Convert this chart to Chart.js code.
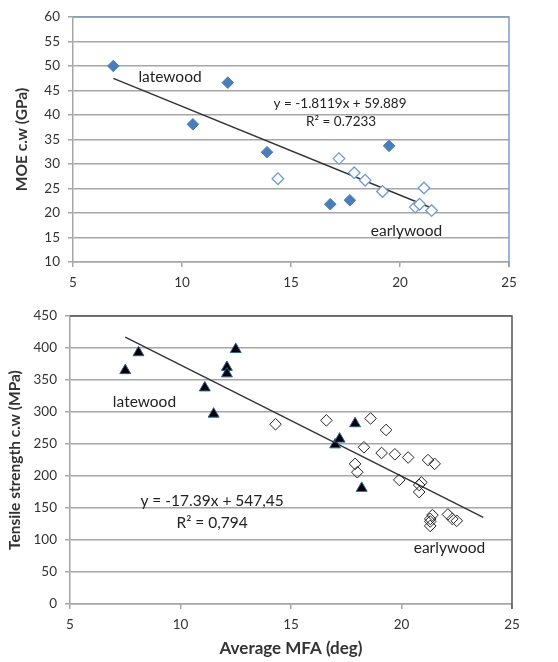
<!DOCTYPE html>
<html lang="en">
<head>
<meta charset="UTF-8">
<title>MOE and tensile strength vs MFA</title>
<script src="https://cdn.jsdelivr.net/npm/chart.js@4"></script>
<style>
    body{ margin:0; background:#fff; }
    #moeBox{ position:absolute; left:0; top:0; width:558px; height:300px; }
    #tsBox{ position:absolute; left:0; top:300px; width:558px; height:362px; }
</style>
</head>
<body>
<div id="moeBox"><canvas id="moeCanvas" width="558" height="300"></canvas></div>
<div id="tsBox"><canvas id="tsCanvas" width="558" height="362"></canvas></div>
<script>
// ---- top chart: MOE vs MFA ----
const moeLateX = [6.85, 10.5, 12.1, 13.9, 16.8, 17.7, 19.5];
const moeLateY = [50.0, 38.1, 46.6, 32.4, 21.8, 22.6, 33.7];
const moeEarlyX = [14.4, 17.2, 17.9, 18.4, 19.2, 20.7, 20.9, 21.1, 21.45];
const moeEarlyY = [27.0, 31.1, 28.2, 26.7, 24.4, 21.2, 21.8, 25.1, 20.5];
const moeSlope = -1.8119, moeIntercept = 59.889;
const moeFitRange = [6.85, 21.45];

// ---- bottom chart: tensile strength vs MFA ----
const tsLateX = [7.5, 8.1, 11.1, 11.5, 12.1, 12.1, 12.5, 17.0, 17.2, 17.9, 18.2];
const tsLateY = [365, 393, 338, 297, 370, 360, 398, 249, 258, 282, 181];
const tsEarlyX = [14.3, 16.6, 18.6, 19.3, 18.3, 19.1, 19.7, 20.3, 17.9, 18.0, 19.9,
                  21.2, 21.5, 20.9, 20.8, 20.8, 21.4, 21.3, 21.3, 21.3, 22.1, 22.3, 22.5];
const tsEarlyY = [281, 287, 290, 272, 245, 236, 234, 229, 219, 206, 194,
                  225, 219, 190, 186, 175, 139, 133, 129, 122, 140, 133, 130];
const tsSlope = -17.39, tsIntercept = 547.45;
const tsFitRange = [7.5, 23.7];

const xTicks = [5, 10, 15, 20, 25];
const moeTicks = [10, 15, 20, 25, 30, 35, 40, 45, 50, 55, 60];
const tsTicks = [0, 50, 100, 150, 200, 250, 300, 350, 400, 450];

const FONT = "Lato, 'Open Sans', sans-serif";
const TXT = '#333';

function pts(xs, ys){ return xs.map((x, i) => ({x: x, y: ys[i]})); }
function fitLine(m, b, r){ return r.map(x => ({x: x, y: m * x + b})); }

// text notes placed in data units through the scales
const notesPlugin = {
    id: 'notes',
    afterDatasetsDraw(chart, args, opts){
        const ctx = chart.ctx, xs = chart.scales.x, ys = chart.scales.y;
        ctx.save();
        ctx.fillStyle = '#222';
        ctx.textAlign = 'center';
        ctx.textBaseline = 'middle';
        (opts.items || []).forEach(n => {
            ctx.font = n.size + 'px ' + FONT;
            ctx.fillText(n.text, xs.getPixelForValue(n.x), ys.getPixelForValue(n.y));
        });
        ctx.restore();
    }
};

// top + right frame of plot area
const framePlugin = {
    id: 'frame',
    afterDraw(chart, args, opts){
        const a = chart.chartArea, ctx = chart.ctx;
        ctx.save();
        ctx.strokeStyle = opts.color;
        ctx.lineWidth = 1.5;
        ctx.beginPath();
        ctx.moveTo(a.left, a.top);
        ctx.lineTo(a.right, a.top);
        ctx.lineTo(a.right, a.bottom + 5);
        ctx.stroke();
        ctx.restore();
    }
};

function makeChart(id, cfg){
    return new Chart(document.getElementById(id), {
        type: 'scatter',
        data: { datasets: cfg.datasets },
        plugins: [notesPlugin, framePlugin],
        options: {
            responsive: false,
            animation: false,
            layout: { padding: { top: cfg.padTop, right: cfg.padRight, left: 0, bottom: 0 } },
            plugins: {
                legend: { display: false },
                tooltip: { enabled: false },
                notes: { items: cfg.notes },
                frame: { color: cfg.frameColor }
            },
            scales: {
                x: {
                    type: 'linear', min: 5, max: 25,
                    afterBuildTicks: s => { s.ticks = xTicks.map(v => ({value: v})); },
                    afterFit: s => { s.height = cfg.xHeight; },
                    grid: { drawOnChartArea: false, tickLength: 5, color: '#a6a6a6', lineWidth: 1.5 },
                    border: { color: '#a6a6a6', width: 1.5 },
                    ticks: { color: TXT, font: { family: FONT, size: 13.5 }, padding: 8, maxRotation: 0 },
                    title: cfg.xTitle ? { display: true, text: cfg.xTitle, color: TXT,
                        font: { family: FONT, size: 17, weight: 'bold' }, padding: { top: 0, bottom: 3 } } : { display: false }
                },
                y: {
                    type: 'linear', min: cfg.yMin, max: cfg.yMax,
                    afterBuildTicks: s => { s.ticks = cfg.yTicks.map(v => ({value: v})); },
                    afterFit: s => { s.width = cfg.yWidth; },
                    grid: { tickLength: 5, color: '#a6a6a6', lineWidth: 1.5 },
                    border: { color: '#a6a6a6', width: 1.5 },
                    ticks: { color: TXT, font: { family: FONT, size: 13.5 }, padding: 8 },
                    title: { display: true, text: cfg.yTitle, color: TXT,
                        font: { family: FONT, size: 15.5, weight: 'bold' }, padding: { top: cfg.yTitlePad, bottom: 0 } }
                }
            }
        }
    });
}

makeChart('moeCanvas', {
    padTop: 17, padRight: 49, xHeight: 38, yWidth: 73, yTitlePad: 13,
    yMin: 10, yMax: 60, yTicks: moeTicks, yTitle: 'MOE c.w (GPa)', xTitle: null,
    frameColor: '#7f9cc4',
    datasets: [
        { label: 'latewood', data: pts(moeLateX, moeLateY), pointStyle: 'rectRot', pointRadius: 5.8,
          backgroundColor: '#4a7ebb', borderColor: '#4a7ebb', borderWidth: 1 },
        { label: 'earlywood', data: pts(moeEarlyX, moeEarlyY), pointStyle: 'rectRot', pointRadius: 5.8,
          backgroundColor: '#fff', borderColor: '#6f9bd1', borderWidth: 1.3 },
        { type: 'line', label: 'fit', data: fitLine(moeSlope, moeIntercept, moeFitRange),
          borderColor: '#333', borderWidth: 1.4, pointRadius: 0, fill: false }
    ],
    notes: [
        { text: 'latewood', x: 9.45, y: 47.8, size: 15.5 },
        { text: 'y = -1.8119x + 59.889', x: 17.25, y: 42.4, size: 13.5 },
        { text: 'R² = 0.7233', x: 17.3, y: 38.6, size: 13.5 },
        { text: 'earlywood', x: 20.3, y: 16.3, size: 15.5 }
    ]
});

makeChart('tsCanvas', {
    padTop: 14, padRight: 46, xHeight: 58, yWidth: 70, yTitlePad: 6,
    yMin: 0, yMax: 450, yTicks: tsTicks, yTitle: 'Tensile strength c.w (MPa)', xTitle: 'Average MFA (deg)',
    frameColor: '#555',
    datasets: [
        { label: 'latewood', data: pts(tsLateX, tsLateY), pointStyle: 'triangle', pointRadius: 6.3,
          backgroundColor: '#000', borderColor: '#2f5f9a', borderWidth: 1 },
        { label: 'earlywood', data: pts(tsEarlyX, tsEarlyY), pointStyle: 'rectRot', pointRadius: 5.8,
          backgroundColor: 'rgba(255,255,255,0)', borderColor: '#222', borderWidth: 1 },
        { type: 'line', label: 'fit', data: fitLine(tsSlope, tsIntercept, tsFitRange),
          borderColor: '#333', borderWidth: 1.4, pointRadius: 0, fill: false }
    ],
    notes: [
        { text: 'latewood', x: 8.37, y: 316, size: 15.5 },
        { text: 'y = -17.39x + 547,45', x: 11.43, y: 161, size: 15.5 },
        { text: 'R² = 0,794', x: 11.43, y: 127, size: 15.5 },
        { text: 'earlywood', x: 22.17, y: 88, size: 15.5 }
    ]
});
</script>
</body>
</html>
